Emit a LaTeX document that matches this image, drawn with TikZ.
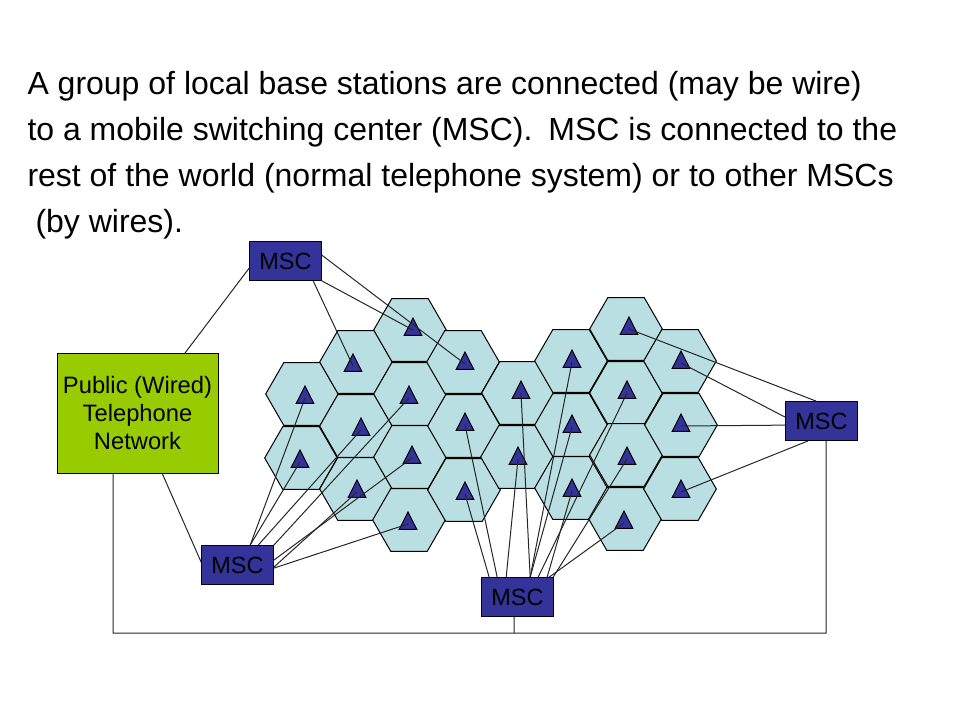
\documentclass[tikz,border=0pt]{standalone}
\usepackage{fontspec}
\setmainfont{Liberation Sans}
\usetikzlibrary{positioning,calc,shapes.geometric}
\definecolor{cellblue}{HTML}{B9DFE3}
\definecolor{mscblue}{HTML}{333399}
\definecolor{netgreen}{HTML}{99CC00}
\tikzset{
  cell/.style={regular polygon,regular polygon sides=6,draw,fill=cellblue,
    minimum size=54.5pt,inner sep=0pt,outer sep=0pt},
  tower/.style={isosceles triangle,isosceles triangle stretches,shape border rotate=90,
    draw,fill=mscblue,minimum width=13.2pt,minimum height=13pt,inner sep=0pt,outer sep=0pt,
    yshift=-2.25pt},
  msc/.style={rectangle,draw,fill=mscblue,minimum width=54.5pt,minimum height=29.8pt,
    inner sep=0pt,outer sep=0pt,font=\fontsize{17.6pt}{21pt}\selectfont},
  pstn/.style={rectangle,draw,fill=netgreen,minimum width=120.75pt,minimum height=90pt,
    inner sep=0pt,outer sep=0pt,align=center,font=\fontsize{17.8pt}{21pt}\selectfont},
  headline/.style={anchor=base west,inner sep=0pt,font=\fontsize{24pt}{30pt}\selectfont},
  wire/.style={line width=0.75pt,black!85}
}
\begin{document}
\begin{tikzpicture}[x=0.75pt,y=-0.75pt,line width=0.75pt]
  \useasboundingbox (0,0) rectangle (960,720);
  \node[headline] (line1) at (27,95) {A group of local base stations are connected (may be wire)};
  \node[headline] (line2) at (27,141) {to a mobile switching center (MSC).\hspace{0.5em}MSC is connected to the};
  \node[headline] (line3) at (27,187) {rest of the world (normal telephone system) or to other MSCs};
  \node[headline] (line4) at (35,233) {(by wires).};
  % cells
  \node[cell] (h1) at (302,394) {};
  \node[cell] (h2) at (301,458) {};
  \node[cell] (h3) at (356,362) {};
  \node[cell] (h4) at (356,426) {};
  \node[cell] (h5) at (356,489) {};
  \node[cell] (h6) at (410,330) {};
  \node[cell] (h7) at (410,394) {};
  \node[cell] (h8) at (410,457) {};
  \node[cell] (h9) at (409,520) {};
  \node[cell] (h10) at (463,362) {};
  \node[cell] (h11) at (464,426) {};
  \node[cell] (h12) at (464,490) {};
  \node[cell] (h13) at (518,393) {};
  \node[cell] (h14) at (517,457) {};
  \node[cell] (h15) at (571,361) {};
  \node[cell] (h16) at (571,425) {};
  \node[cell] (h17) at (571,488) {};
  \node[cell] (h18) at (626,329) {};
  \node[cell] (h19) at (626,393) {};
  \node[cell] (h20) at (626,455) {};
  \node[cell] (h21) at (625,519) {};
  \node[cell] (h22) at (680,361) {};
  \node[cell] (h23) at (681,425) {};
  \node[cell] (h24) at (680,489) {};
  % towers
  \node[tower] (t1) at (305,395) {};
  \node[tower] (t2) at (300,459) {};
  \node[tower] (t3) at (353,363) {};
  \node[tower] (t4) at (361,427) {};
  \node[tower] (t5) at (357,489) {};
  \node[tower] (t6) at (413,327) {};
  \node[tower] (t7) at (409,395) {};
  \node[tower] (t8) at (412,455) {};
  \node[tower] (t9) at (408,521) {};
  \node[tower] (t10) at (465,361) {};
  \node[tower] (t11) at (465,422) {};
  \node[tower] (t12) at (465,491) {};
  \node[tower] (t13) at (521,390) {};
  \node[tower] (t14) at (518,456) {};
  \node[tower] (t15) at (572,359) {};
  \node[tower] (t16) at (572,424) {};
  \node[tower] (t17) at (572,488) {};
  \node[tower] (t18) at (629,326) {};
  \node[tower] (t19) at (627,390) {};
  \node[tower] (t20) at (627,456) {};
  \node[tower] (t21) at (624,520) {};
  \node[tower] (t22) at (681,360) {};
  \node[tower] (t23) at (681,423) {};
  \node[tower] (t24) at (681,489) {};
  % switching centers
  \node[pstn] (net) at (137.5,413) {Public (Wired)\\Telephone\\Network};
  \node[msc] (msctop) at (285.5,261) {MSC};
  \node[msc] (mscleft) at (237.5,565) {MSC};
  \node[msc] (mscbot) at (517.5,597) {MSC};
  \node[msc] (mscright) at (821.5,421) {MSC};
  \coordinate (wirel) at (113,633);
  \coordinate (wirem) at (514,633);
  \coordinate (wirer) at (826,633);
  % outer wires
  \draw[wire] ($(net.north east)+(-33,0)$) -- ($(msctop.north west)+(0,27)$);
  \draw[wire] ($(net.south east)+(-56,0)$) -- ($(mscleft.north west)+(0,17)$);
  \draw[wire] ($(net.south west)+(56,0)$) -- (wirel) -- (wirer) -- ($(mscright.south west)+(41,0)$);
  \draw[wire] ($(mscbot.south west)+(33,0)$) -- (wirem);
  % top center
  \draw[wire] ($(msctop.north east)+(0,14)$) -- (t10.center);
  \draw[wire] (msctop.south east) -- (t6.center);
  \draw[wire] ($(msctop.south west)+(64,0)$) -- (t3.center);
  % left center
  \draw[wire] ($(mscleft.north west)+(49,0)$) -- (t1.center);
  \draw[wire] ($(mscleft.north west)+(49,0)$) -- (t2.center);
  \draw[wire] ($(mscleft.north west)+(57,0)$) -- (t4.center);
  \draw[wire] (mscleft.north east) -- (t7.center);
  \draw[wire] ($(mscleft.north east)+(0,15)$) -- (t8.center);
  \draw[wire] ($(mscleft.north east)+(0,22)$) -- (t5.center);
  \draw[wire] ($(mscleft.north east)+(0,23)$) -- (t9.center);
  % bottom center
  \draw[wire] ($(mscbot.north west)+(8,0)$) -- (t12.center);
  \draw[wire] ($(mscbot.north west)+(16,0)$) -- (t11.center);
  \draw[wire] ($(mscbot.north west)+(25,0)$) -- (t14.center);
  \draw[wire] ($(mscbot.north west)+(49,0)$) -- (t13.center);
  \draw[wire] ($(mscbot.north west)+(49,0)$) -- (t15.center);
  \draw[wire] ($(mscbot.north west)+(49,0)$) -- (t16.center);
  \draw[wire] ($(mscbot.north west)+(66,0)$) -- (t17.center);
  \draw[wire] ($(mscbot.north west)+(57,0)$) -- (t19.center);
  \draw[wire] ($(mscbot.north west)+(72,0)$) -- (t20.center);
  \draw[wire] ($(mscbot.north west)+(68,0)$) -- (t21.center);
  % right center
  \draw[wire] ($(mscright.north west)+(31,0)$) -- (t18.center);
  \draw[wire] ($(mscright.north west)+(0,16)$) -- (t22.center);
  \draw[wire] ($(mscright.north west)+(0,24)$) -- (t23.center);
  \draw[wire] ($(mscright.south west)+(23,0)$) -- (t24.center);
\end{tikzpicture}
\end{document}
